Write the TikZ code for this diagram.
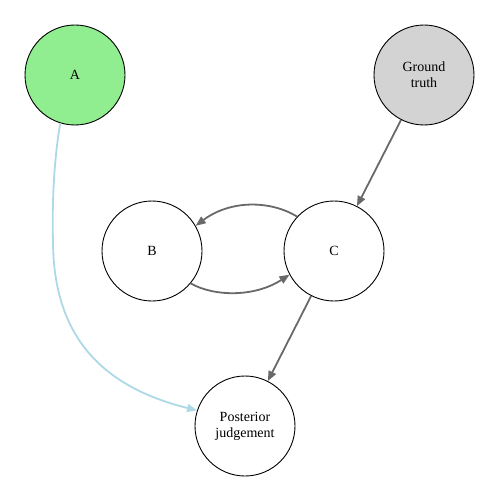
\documentclass[tikz,border=0pt]{standalone}
\usepackage{fontspec}
\setmainfont{Liberation Serif}
\usetikzlibrary{arrows.meta}
\definecolor{edgegray}{HTML}{696969}
\definecolor{lightgreen}{HTML}{90EE90}
\definecolor{lightgray}{HTML}{D3D3D3}
\definecolor{lightblue}{HTML}{ADD8E6}
\begin{document}
\begin{tikzpicture}[x=1pt,y=-1pt,
  var/.style={circle,draw=black,line width=0.9pt,minimum size=100pt,inner sep=0pt,
    align=center,font=\fontsize{14pt}{16pt}\selectfont},
  edge/.style={draw=edgegray,line width=1.8pt,-{Triangle[length=10pt,width=8pt]}},
  blueedge/.style={draw=lightblue,line width=1.8pt,-{Triangle[length=10pt,width=8pt]}}]
\useasboundingbox (0,0) rectangle (500,500);
\node[var,fill=lightgreen] (A) at (75,75) {A};
\node[var,fill=lightgray] (G) at (424,75) {Ground\\truth};
\node[var] (B) at (152,251) {B};
\node[var] (C) at (334,251) {C};
\node[var] (P) at (245,426) {Posterior\\judgement};
\draw[blueedge] (A.253) .. controls (54,160) and (52,200) .. (53,243)
   .. controls (54,330) and (95,385) .. (P.162);
\draw[edge] (G) -- (C);
\draw[edge] (C) -- (P);
\draw[edge] (C.137) .. controls (270,200) and (230,200) .. (B.30);
\draw[edge] (B.320) .. controls (215,297) and (255,297) .. (C.208);
\end{tikzpicture}
\end{document}
